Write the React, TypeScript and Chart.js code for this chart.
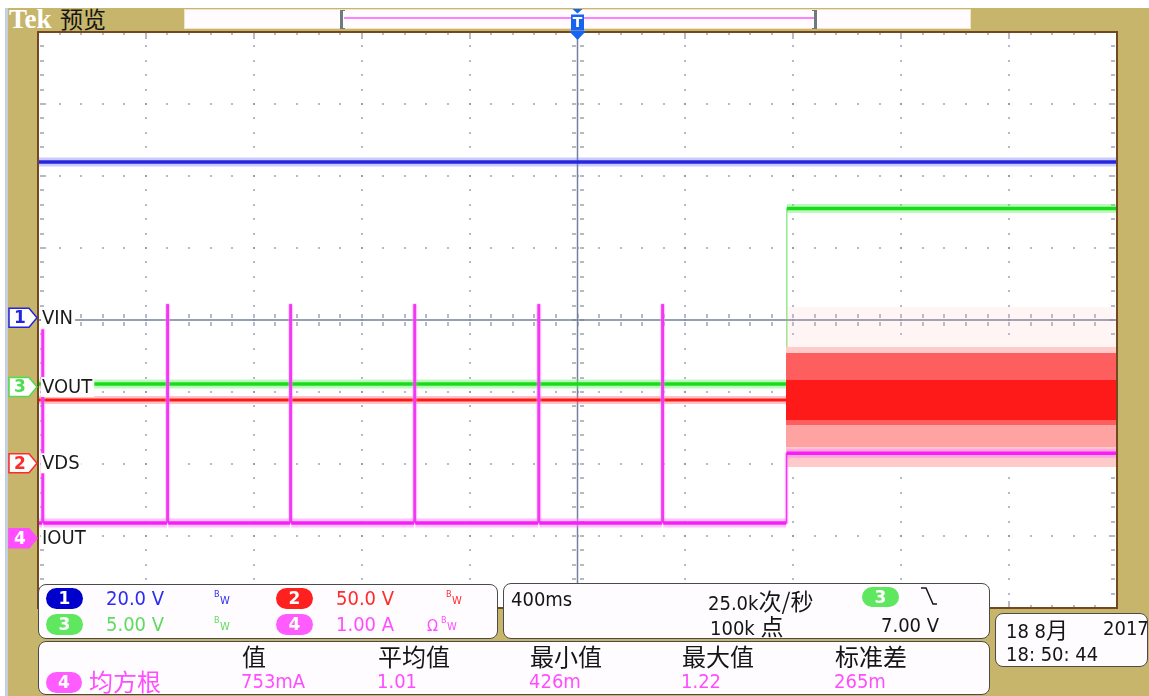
import React, { useEffect, useRef } from "react";
import { Chart, registerables } from "chart.js";

Chart.register(...registerables);

// ---------------- data ----------------
const TIME_MIN = -2.0; // s  (400 ms/div, 10 divisions)
const TIME_MAX = 2.0;
const X_DIVS = 10;
const Y_DIVS = 8;
const MINOR = 5;

// channel order: ch1, ch3, ch2, ch4 (as stacked on the left edge)
const CH_NUM = ["1", "3", "2", "4"];
const CH_LABEL = ["VIN", "VOUT", "VDS", "IOUT"];
const CH_SCALE = [20, 5, 50, 1]; // units / division
const CH_POS = [0.03, -0.93, -1.99, -3.03]; // ground marker position (div)

const VIN_T = [-2.0, 2.0];
const VIN_V = [43.3, 43.3];

const VOUT_T = [-2.0, 0.773, 0.776, 2.0];
const VOUT_V = [0.2, 0.2, 12.4, 12.4];

const VDS_T = [-2.0, 0.773];
const VDS_V = [43.9, 43.9];
const VDS_BAND_T = [0.773, 2.0];
const VDS_BAND_HI = [108.5, 80.8, 76.6, 76.6, 57.8];
const VDS_BAND_LO = [80.8, -2.6, 11.3, 26.6, 30.1];

const IOUT_T = [-2.0, 0.773, 0.775, 2.0];
const IOUT_A = [0.21, 0.21, 1.18, 1.18];
const IOUT_SPIKE_T = [-1.985, -1.522, -1.066, -0.606, -0.146, 0.313];
const IOUT_SPIKE_A = [2.89, 3.24, 3.24, 3.24, 3.24, 3.24];
const IOUT_SPIKE_W = 0.005;

const MEAS_HEAD = ["值", "平均值", "最小值", "最大值", "标准差"];
const MEAS_VAL = ["753mA", "1.01", "426m", "1.22", "265m"];

// ---------------- styles ----------------
const PAGE_W = 1149;
const PAGE_H = 696;
const KHAKI = "#c6b56b";
const SANS = "'DejaVu Sans Condensed','DejaVu Sans',sans-serif";
const CJK = "'Noto Sans CJK SC','Noto Sans CJK JP',sans-serif";
const TRACE = ["#2626dc", "#19dc19", "#ff1616", "#f520f5"];
const HALO = ["rgba(105,105,255,0.35)", "rgba(90,240,90,0.4)", "rgba(255,110,110,0.4)", "rgba(255,120,255,0.45)"];
const BADGE = ["#2323e0", "#4fdc4f", "#ff2a2a", "#ff4dff"];
const BAND_FILL = ["rgba(255,185,185,0.14)", "#ffcaca", "#ffa2a2", "#ff5e5e", "#ff1a1a"];
const DOT = "#7c86a0";
const CENTER = "#76809c";

const toDiv = (v: number, ch: number) => v / CH_SCALE[ch] + CH_POS[ch];
const pts = (ts: number[], vs: number[], ch: number) =>
  ts.map((t, i) => ({ x: t, y: toDiv(vs[i], ch) }));

function ioutSeries() {
  const lo = toDiv(IOUT_A[0], 3);
  const out = [{ x: IOUT_T[0], y: lo }];
  IOUT_SPIKE_T.forEach((t, k) => {
    const hi = toDiv(IOUT_SPIKE_A[k], 3);
    out.push({ x: t, y: lo }, { x: t, y: hi }, { x: t + IOUT_SPIKE_W, y: hi }, { x: t + IOUT_SPIKE_W, y: lo });
  });
  for (let i = 1; i < IOUT_T.length; i++) out.push({ x: IOUT_T[i], y: toDiv(IOUT_A[i], 3) });
  return out;
}

const isVert = (c: any) => Math.abs(c.p1.parsed.x - c.p0.parsed.x) < 0.01;

function buildDatasets() {
  const ds: any[] = [];
  const trace = (data: any[], ch: number, order: number, halo: number, core: number, vHalo: any, vCore: any) => {
    ds.push({
      data, order, borderColor: HALO[ch], borderWidth: halo, fill: false,
      segment: {
        borderWidth: (c: any) => (isVert(c) ? vHalo.w : undefined),
        borderColor: (c: any) => (isVert(c) ? vHalo.c : undefined),
      },
    });
    ds.push({
      data, order: order - 1, borderColor: TRACE[ch], borderWidth: core, fill: false,
      segment: {
        borderWidth: (c: any) => (isVert(c) ? vCore.w : undefined),
        borderColor: (c: any) => (isVert(c) ? vCore.c : undefined),
      },
    });
  };
  // VOUT (bottom-most)
  trace(pts(VOUT_T, VOUT_V, 1), 1, 100, 9, 3.5, { w: 1, c: "rgba(0,0,0,0)" }, { w: 1.2, c: "rgba(70,225,70,0.75)" });
  // VIN
  trace(pts(VIN_T, VIN_V, 0), 0, 90, 9, 3.5, { w: 1, c: "rgba(0,0,0,0)" }, { w: 1, c: TRACE[0] });
  // VDS noise bands after the step
  VDS_BAND_HI.forEach((hi, k) => {
    const bottomIdx = ds.length + 1;
    ds.push({
      data: pts(VDS_BAND_T, [hi, hi], 2), order: 80 - k, borderWidth: 1, borderColor: "rgba(0,0,0,0)",
      backgroundColor: BAND_FILL[k], fill: { target: bottomIdx, above: BAND_FILL[k], below: BAND_FILL[k] },
    });
    ds.push({
      data: pts(VDS_BAND_T, [VDS_BAND_LO[k], VDS_BAND_LO[k]], 2), order: 80 - k, borderWidth: 1,
      borderColor: "rgba(0,0,0,0)", fill: false,
    });
  });
  // VDS before step
  trace(pts(VDS_T, VDS_V, 2), 2, 70, 8, 3, { w: 1, c: "rgba(0,0,0,0)" }, { w: 1, c: TRACE[2] });
  // IOUT (top-most)
  trace(ioutSeries(), 3, 60, 9, 3.5, { w: 4, c: "rgba(255,150,255,0.35)" }, { w: 1.6, c: "#f238f2" });
  return ds;
}

const scopePlugin = {
  id: "scope",
  beforeDraw(chart: any) {
    const { ctx, chartArea: a } = chart;
    ctx.save();
    ctx.fillStyle = "#ffffff";
    ctx.fillRect(a.left, a.top, a.right - a.left, a.bottom - a.top);
    ctx.restore();
  },
  beforeDatasetsDraw(chart: any) {
    const { ctx, chartArea: a, scales } = chart;
    const nx = X_DIVS * MINOR;
    const ny = Y_DIVS * MINOR;
    const px = (i: number) => scales.x.getPixelForValue(TIME_MIN + (i * (TIME_MAX - TIME_MIN)) / nx);
    const py = (j: number) => scales.y.getPixelForValue(-Y_DIVS / 2 + j / MINOR);
    const cx = nx / 2;
    const cy = ny / 2;
    ctx.save();
    ctx.fillStyle = DOT;
    const d = (x: number, y: number) => ctx.fillRect(Math.round(x) - 0.75, Math.round(y) - 0.75, 1.5, 1.5);
    for (let i = MINOR; i < nx; i += MINOR) {
      if (i === cx) continue;
      for (let j = 1; j < ny; j++) d(px(i), py(j));
    }
    for (let j = MINOR; j < ny; j += MINOR) {
      if (j === cy) continue;
      for (let i = 1; i < nx; i++) d(px(i), py(j));
    }
    for (let j = 1; j < ny; j++) {
      const k = j % MINOR === 0 ? 3 : 2;
      for (let m = 0; m < k; m++) {
        d(a.left + 3 + 2 * m, py(j));
        d(a.right - 3 - 2 * m, py(j));
      }
    }
    for (let i = 1; i < nx; i++) {
      const k = i % MINOR === 0 ? 3 : 1;
      for (let m = 0; m < k; m++) {
        d(px(i), a.top + 2 + 2 * m);
        d(px(i), a.bottom - 2 - 2 * m);
      }
    }
    const xc = px(cx);
    const yc = py(cy);
    for (let j = 1; j < ny; j++) [-5, -3, 3, 5].forEach((o) => d(xc + o, py(j)));
    for (let i = 1; i < nx; i++) [-5, -3, 3, 5].forEach((o) => d(px(i), yc + o));
    ctx.strokeStyle = CENTER;
    ctx.lineWidth = 1.5;
    ctx.beginPath();
    ctx.moveTo(xc, a.top);
    ctx.lineTo(xc, a.bottom);
    ctx.moveTo(a.left, yc);
    ctx.lineTo(a.right, yc);
    ctx.stroke();
    ctx.restore();
  },
  afterDatasetsDraw(chart: any) {
    const { ctx, chartArea: a, scales } = chart;
    ctx.save();
    // border
    ctx.strokeStyle = "#74481f";
    ctx.lineWidth = 2;
    ctx.strokeRect(a.left, a.top, a.right - a.left, a.bottom - a.top);
    // channel labels + markers
    CH_LABEL.forEach((lab, i) => {
      const yc = scales.y.getPixelForValue(CH_POS[i]);
      ctx.font = "20px 'DejaVu Sans Condensed', 'DejaVu Sans'";
      (ctx as any).fontStretch = "condensed";
      const w = ctx.measureText(lab).width;
      ctx.fillStyle = "#ffffff";
      ctx.fillRect(a.left + 3, yc - 10, w + 3, 20);
      ctx.fillStyle = "#1a1a1a";
      ctx.textBaseline = "middle";
      ctx.textAlign = "left";
      ctx.fillText(lab, a.left + 4, yc + 1);
      // marker
      const l = 9, r = 37, hh = 9.5, notch = 8;
      const filled = i === 3;
      ctx.beginPath();
      ctx.moveTo(l, yc - hh);
      ctx.lineTo(r - notch, yc - hh);
      ctx.lineTo(r, yc);
      ctx.lineTo(r - notch, yc + hh);
      ctx.lineTo(l, yc + hh);
      ctx.closePath();
      ctx.fillStyle = filled ? BADGE[i] : "#ffffff";
      ctx.fill();
      ctx.lineWidth = 1.5;
      ctx.strokeStyle = BADGE[i];
      ctx.stroke();
      ctx.fillStyle = filled ? "#ffffff" : BADGE[i];
      ctx.font = "bold 17px 'DejaVu Sans'";
      (ctx as any).fontStretch = "normal";
      ctx.textAlign = "center";
      ctx.fillText(CH_NUM[i], 20, yc + 1);
    });
    ctx.restore();
  },
  afterDraw(chart: any) {
    const { ctx, scales } = chart;
    const x0 = scales.x.getPixelForValue(0);
    ctx.save();
    ctx.fillStyle = "#1565f2";
    ctx.beginPath();
    ctx.moveTo(x0 - 5, 9);
    ctx.lineTo(x0 + 5, 9);
    ctx.lineTo(x0, 13.5);
    ctx.closePath();
    ctx.fill();
    ctx.fillRect(x0 - 6.5, 14.5, 13, 16);
    ctx.beginPath();
    ctx.moveTo(x0 - 8.5, 31);
    ctx.lineTo(x0 + 8.5, 31);
    ctx.lineTo(x0, 40);
    ctx.closePath();
    ctx.fill();
    ctx.fillStyle = "#ffffff";
    ctx.font = "bold 14px 'DejaVu Sans'";
    ctx.textAlign = "center";
    ctx.textBaseline = "middle";
    ctx.fillText("T", x0, 23);
    ctx.restore();
  },
};

// ---------------- UI helpers ----------------
function Txt(props: { x: number; y: number; size?: number; color?: string; font?: string; children: any; dy?: number }) {
  const size = props.size ?? 20;
  const lh = Math.round(size * 1.2);
  return (
    <div
      style={{
        position: "absolute", left: props.x, top: props.y - lh / 2 + (props.dy ?? 0), lineHeight: lh + "px",
        fontSize: size, color: props.color ?? "#151515", fontFamily: props.font ?? SANS, fontStretch: "condensed",
        whiteSpace: "nowrap", zIndex: 3,
      }}
    >
      {props.children}
    </div>
  );
}

function Pill(props: { x: number; y: number; bg: string; children: any; w?: number; h?: number }) {
  const w = props.w ?? 37;
  const h = props.h ?? 21;
  return (
    <div
      style={{
        position: "absolute", left: props.x, top: props.y - h / 2, width: w, height: h, borderRadius: h / 2,
        background: props.bg, color: "#fff", fontFamily: "'DejaVu Sans',sans-serif", fontWeight: "bold",
        fontSize: 17, lineHeight: h + "px", textAlign: "center", zIndex: 3,
      }}
    >
      {props.children}
    </div>
  );
}

function BW(props: { x: number; y: number; color: string }) {
  return (
    <>
      <div style={{ position: "absolute", left: props.x, top: props.y - 9, fontSize: 9, lineHeight: "10px", color: props.color, fontFamily: SANS, zIndex: 3 }}>B</div>
      <div style={{ position: "absolute", left: props.x + 6, top: props.y - 3, fontSize: 11, lineHeight: "11px", color: props.color, fontFamily: SANS, zIndex: 3 }}>W</div>
    </>
  );
}

function Panel(props: { x: number; y: number; w: number; h: number }) {
  return (
    <div
      style={{
        position: "absolute", left: props.x, top: props.y, width: props.w, height: props.h, boxSizing: "border-box",
        border: "1.5px solid #4a4a4a", borderRadius: 8, background: "#fffcff", zIndex: 2,
      }}
    />
  );
}

const MEAS_X = [242, 378, 530, 682, 835];

export default function App() {
  const ref = useRef<HTMLCanvasElement>(null);
  useEffect(() => {
    const chart = new Chart(ref.current as HTMLCanvasElement, {
      type: "line",
      data: { datasets: buildDatasets() },
      options: {
        animation: false,
        responsive: false,
        maintainAspectRatio: false,
        events: [],
        layout: { padding: { left: 38, top: 32, right: PAGE_W - 1117, bottom: PAGE_H - 608 } },
        scales: {
          x: { type: "linear", min: TIME_MIN, max: TIME_MAX, display: false },
          y: { type: "linear", min: -Y_DIVS / 2, max: Y_DIVS / 2, display: false },
        },
        plugins: { legend: { display: false }, tooltip: { enabled: false } },
        elements: {
          point: { radius: 0 },
          line: { tension: 0, borderJoinStyle: "round", borderCapStyle: "butt" },
        },
      } as any,
      plugins: [scopePlugin],
    });
    return () => chart.destroy();
  }, []);

  return (
    <div style={{ position: "fixed", left: 0, top: 0, width: PAGE_W, height: PAGE_H, background: "#fff", overflow: "hidden" }}>
      {/* frame */}
      <div style={{ position: "absolute", left: 5, top: 8, width: 3, height: PAGE_H - 8, background: "#c5cfe0" }} />
      <div style={{ position: "absolute", left: 8, top: 8, width: PAGE_W - 8, height: PAGE_H - 8, background: KHAKI }} />
      <div style={{ position: "absolute", left: 9, top: 6, lineHeight: "26px", fontSize: 27, fontWeight: "bold", fontFamily: "'Liberation Serif',serif", color: "#fff" }}>Tek</div>
      <div style={{ position: "absolute", left: 60, top: 6, lineHeight: "24px", fontSize: 23, fontFamily: CJK, color: "#151515" }}>预览</div>
      {/* record view bar */}
      <div style={{ position: "absolute", left: 184, top: 9, width: 787, height: 20, background: "#fffbff", boxSizing: "border-box", border: "1px solid #efe4c4" }} />
      <div style={{ position: "absolute", left: 344, top: 17, width: 470, height: 2, background: "#ff80ff" }} />
      <div style={{ position: "absolute", left: 340, top: 10, width: 5, height: 19, boxSizing: "border-box", borderLeft: "3px solid #6c7c7c", borderTop: "1px solid #6c7c7c", borderBottom: "1px solid #6c7c7c" }} />
      <div style={{ position: "absolute", left: 812, top: 10, width: 5, height: 19, boxSizing: "border-box", borderRight: "3px solid #6c7c7c", borderTop: "1px solid #6c7c7c", borderBottom: "1px solid #6c7c7c" }} />

      <canvas ref={ref} width={PAGE_W} height={PAGE_H} style={{ position: "absolute", left: 0, top: 0, width: PAGE_W, height: PAGE_H, zIndex: 1 }} />

      {/* channel panel */}
      <Panel x={38} y={584} w={460} h={55} />
      <Pill x={46} y={598} bg="#0000cc">1</Pill>
      <Txt x={106} y={598} color="#2c2cf0">20.0 V</Txt>
      <BW x={214} y={598} color="#2c2cf0" />
      <Pill x={276} y={598} bg="#ff2020">2</Pill>
      <Txt x={336} y={598} color="#ff2b2b">50.0 V</Txt>
      <BW x={446} y={598} color="#ff2b2b" />
      <Pill x={46} y={624} bg="#5fe85f">3</Pill>
      <Txt x={106} y={624} color="#5ddc5d">5.00 V</Txt>
      <BW x={214} y={624} color="#5ddc5d" />
      <Pill x={276} y={624} bg="#ff5cff">4</Pill>
      <Txt x={336} y={624} color="#ff4dff">1.00 A</Txt>
      <Txt x={427} y={625} size={16} color="#ff4dff">Ω</Txt>
      <BW x={441} y={624} color="#ff4dff" />

      {/* horizontal / trigger panel */}
      <Panel x={503} y={583} w={487} h={56} />
      <Txt x={511} y={599}>400ms</Txt>
      <Txt x={708} y={600}>
        25.0k<span style={{ fontFamily: CJK, fontSize: 23 }}>次/秒</span>
      </Txt>
      <Txt x={710} y={625}>
        100k <span style={{ fontFamily: CJK, fontSize: 23 }}>点</span>
      </Txt>
      <Pill x={862} y={597} bg="#5fe85f" h={20}>3</Pill>
      <svg style={{ position: "absolute", left: 918, top: 585, zIndex: 3 }} width={24} height={24}>
        <polyline points="3,3 8,3 15,19 19,19" fill="none" stroke="#151515" strokeWidth={1.5} />
      </svg>
      <Txt x={881} y={625}>7.00 V</Txt>

      {/* measurement panel */}
      <Panel x={38} y={641} w={952} h={54} />
      <Pill x={46} y={682} bg="#ff5cff" w={36}>4</Pill>
      <Txt x={89} y={681} size={24} font={CJK} color="#ff4dff" dy={-1}>均方根</Txt>
      {MEAS_HEAD.map((h, i) => (
        <Txt key={"h" + i} x={MEAS_X[i]} y={656} size={24} font={CJK} dy={-1}>{h}</Txt>
      ))}
      {MEAS_VAL.map((v, i) => (
        <Txt key={"v" + i} x={MEAS_X[i] - 1} y={681} color="#ff4dff">{v}</Txt>
      ))}

      {/* date box */}
      <Panel x={995} y={613} w={153} h={54} />
      <Txt x={1006} y={628}>
        18 8<span style={{ fontFamily: CJK, fontSize: 22 }}>月</span>
      </Txt>
      <Txt x={1103} y={628}>2017</Txt>
      <Txt x={1006} y={654}>18: 50: 44</Txt>
    </div>
  );
}
